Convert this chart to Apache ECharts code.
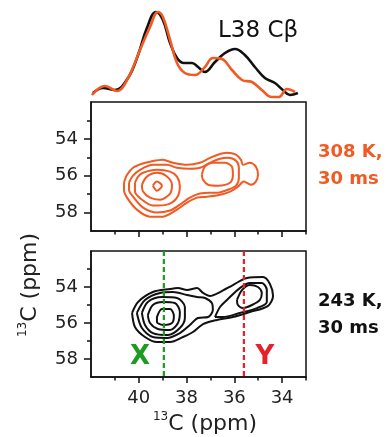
<!DOCTYPE html>
<html><head><meta charset="utf-8">
<script src="https://cdn.jsdelivr.net/npm/echarts@6/dist/echarts.min.js"></script>
<style>html,body{margin:0;padding:0;background:#fff}#c{width:388px;height:437px}</style>
</head><body><div id="c"></div>
<script>
// ---- axis ticks (ppm) ----
const xMajorTicks = [34, 36, 38, 40];
const xMinorTicks = [33, 35, 37, 39, 41];
const yMajorTicks = [54, 56, 58];
const yMinorTicks = [53, 55, 57];

// ---- 1D projections (ppm, relative intensity) ----
const spec243Ppm = [41.92,41.50,41.00,40.45,40.03,39.66,39.28,38.99,38.69,38.40,38.11,37.77,37.52,37.23,36.81,36.39,35.97,35.56,35.14,34.72,34.30,33.97,33.67,33.34];
const spec243Int = [2,7,5,17,40,67,83,75,52,37,32,32,28,23,33,42,46,40,28,17,12,5,0,2];
const spec308Ppm = [41.96,41.41,40.91,40.45,39.95,39.53,39.20,38.99,38.69,38.40,38.07,37.65,37.23,36.90,36.52,36.10,35.68,35.26,34.85,34.43,34.13,33.80,33.46];
const spec308Int = [0,9,4,17,45,68,83,78,55,32,22,20,28,37,36,25,15,13,5,-2,-2,6,3];

// ---- 308 K contours [13C ppm (x), 13C ppm (y)] ----
const c308A = [[40.62,56.38],[40.49,55.95],[40.24,55.57],[39.87,55.35],[39.53,55.24],[38.99,55.14],[38.57,55.30],[37.98,55.41],[37.44,55.30],[37.02,55.03],[36.69,54.86],[36.31,54.76],[35.93,54.86],[35.72,55.14],[35.64,55.41],[35.35,55.30],[35.10,55.51],[35.01,55.95],[35.10,56.32],[35.31,56.49],[35.60,56.32],[35.85,56.59],[36.18,56.86],[36.60,57.03],[37.15,57.14],[37.56,57.19],[37.98,57.46],[38.40,57.84],[38.99,58.22],[39.53,58.22],[40.08,57.84],[40.49,57.19],[40.62,56.76]];
const c308B = [[40.41,56.38],[40.24,56.00],[39.95,55.68],[39.41,55.41],[38.82,55.41],[38.40,55.57],[37.86,55.62],[37.44,55.57],[37.02,55.30],[36.60,55.08],[36.27,55.03],[35.93,55.19],[35.81,55.57],[35.81,56.11],[35.93,56.54],[36.27,56.76],[36.69,56.92],[37.02,56.92],[37.44,56.97],[37.86,57.19],[38.28,57.57],[38.69,57.89],[39.24,58.00],[39.82,57.73],[40.24,57.14],[40.41,56.76]];
const c308C = [[40.16,56.38],[40.03,56.05],[39.82,55.84],[39.24,55.68],[38.69,55.78],[38.40,56.05],[38.28,56.59],[38.40,57.19],[38.82,57.57],[39.41,57.62],[39.87,57.30],[40.16,56.86]];
const c308D = [[39.87,56.49],[39.66,56.05],[39.24,55.84],[38.86,56.00],[38.61,56.49],[38.69,56.97],[39.11,57.30],[39.53,57.19],[39.82,56.86]];
const c308E = [[39.41,56.54],[39.24,56.32],[39.03,56.54],[39.24,56.81]];
const c308R = [[37.36,55.95],[37.23,55.51],[36.90,55.30],[36.39,55.30],[36.10,55.51],[36.06,55.95],[36.18,56.38],[36.69,56.54],[37.10,56.49],[37.31,56.22]];

// ---- 243 K contours ----
const c243A = [[40.28,55.44],[40.03,54.83],[39.41,54.28],[38.69,54.11],[38.36,54.06],[37.98,54.17],[37.56,54.06],[37.31,54.33],[37.02,54.50],[36.60,54.28],[36.06,53.89],[35.47,53.50],[34.80,53.45],[34.51,53.83],[34.38,54.50],[34.60,55.06],[35.35,55.39],[36.06,55.67],[36.73,55.83],[37.31,56.06],[37.73,56.50],[38.15,56.78],[38.69,57.06],[39.24,57.06],[39.74,56.78],[40.16,56.22]];
const c243B = [[40.08,55.44],[39.74,54.72],[39.11,54.33],[38.57,54.28],[37.98,54.44],[37.56,54.56],[37.23,54.61],[36.94,54.89],[36.90,55.28],[37.10,55.67],[37.52,55.72],[37.86,56.11],[38.28,56.56],[38.82,56.83],[39.41,56.78],[39.87,56.28]];
const c243C = [[39.87,55.44],[39.62,54.83],[39.03,54.56],[38.40,54.61],[38.07,55.11],[38.07,55.72],[38.28,56.28],[38.78,56.67],[39.41,56.56],[39.74,56.11]];
const c243D = [[39.62,55.56],[39.41,55.00],[38.99,54.83],[38.49,54.89],[38.28,55.39],[38.36,56.00],[38.69,56.39],[39.20,56.33],[39.53,56.00]];
const c243E = [[39.24,55.67],[39.03,55.22],[38.69,55.22],[38.53,55.61],[38.61,56.00],[38.99,56.11],[39.24,55.94]];
const c243R1 = [[36.81,55.67],[36.60,55.11],[36.31,54.72],[35.77,54.06],[35.35,53.78],[34.85,53.78],[34.64,54.17],[34.64,54.83],[35.05,55.17],[35.77,55.44],[36.48,55.67]];
const c243R2 = [[35.89,54.72],[35.68,54.17],[35.35,53.89],[35.01,54.00],[34.85,54.33],[34.93,54.72],[35.26,55.00],[35.64,55.17],[35.85,55.00]];

// ---- marker positions (ppm) ----
const markerXppm = 38.95;
const markerYppm = 35.6;

const ORANGE = '#F15A22';
const BLACK = '#111111';
const GREEN = '#1E9B22';
const RED = '#E8202A';
const FONT = 'DejaVu Sans';

const chart = echarts.init(document.getElementById('c'), null, {renderer: 'canvas'});

function zip(a, b) { return a.map((v, i) => [v, b[i]]); }
function contour(pts, xi, yi, color) {
  return {
    type: 'line', xAxisIndex: xi, yAxisIndex: yi,
    data: pts.concat([pts[0]]), symbol: 'none', smooth: 0.3, clip: false, silent: true,
    lineStyle: {color: color, width: 2, join: 'round'}
  };
}
function vline(x, color) {
  return {
    type: 'line', xAxisIndex: 3, yAxisIndex: 3, data: [[x, 52], [x, 59]],
    symbol: 'none', silent: true, lineStyle: {color: color, width: 2.2, type: [5, 3]}
  };
}
const GL = 91, GR = 82;
const axisLineStyle = {color: BLACK, width: 1.5};
function xMajor(grid, labels) {
  return {
    gridIndex: grid, type: 'value', min: 33, max: 42, inverse: true, position: 'bottom',
    axisLine: {show: true, lineStyle: axisLineStyle},
    axisTick: {show: true, customValues: xMajorTicks, length: 6, lineStyle: axisLineStyle},
    axisLabel: {show: labels, customValues: xMajorTicks, margin: 12, fontSize: 18, fontFamily: FONT, color: '#222'},
    splitLine: {show: false}
  };
}
function xMinor(grid) {
  return {
    gridIndex: grid, type: 'value', min: 33, max: 42, inverse: true, position: 'bottom',
    axisLine: {show: false},
    axisTick: {show: true, customValues: xMinorTicks, length: 3.5, lineStyle: axisLineStyle},
    axisLabel: {show: false}, splitLine: {show: false}
  };
}
function yMajor(grid) {
  return {
    gridIndex: grid, type: 'value', min: 52, max: 59, inverse: true, position: 'left',
    axisLine: {show: true, lineStyle: axisLineStyle},
    axisTick: {show: true, customValues: yMajorTicks, length: 7, lineStyle: axisLineStyle},
    axisLabel: {show: true, customValues: yMajorTicks, margin: 13, fontSize: 18, fontFamily: FONT, color: '#222'},
    splitLine: {show: false}
  };
}
function yMinor(grid) {
  return {
    gridIndex: grid, type: 'value', min: 52, max: 59, inverse: true, position: 'left',
    axisLine: {show: false},
    axisTick: {show: true, customValues: yMinorTicks, length: 4, lineStyle: axisLineStyle},
    axisLabel: {show: false}, splitLine: {show: false}
  };
}

const series = [
  {type: 'line', xAxisIndex: 0, yAxisIndex: 0, data: zip(spec243Ppm, spec243Int), symbol: 'none', smooth: 0.4, clip: false, lineStyle: {color: BLACK, width: 2.6}},
  {type: 'line', xAxisIndex: 0, yAxisIndex: 0, data: zip(spec308Ppm, spec308Int), symbol: 'none', smooth: 0.4, clip: false, lineStyle: {color: ORANGE, width: 2.6}}
];
[c308A, c308B, c308C, c308D, c308E, c308R].forEach(c => series.push(contour(c, 1, 1, ORANGE)));
[c243A, c243B, c243C, c243D, c243E, c243R1, c243R2].forEach(c => series.push(contour(c, 3, 3, BLACK)));
series.push(vline(markerXppm, GREEN));
series.push(vline(markerYppm, RED));

chart.setOption({
  animation: false,
  backgroundColor: '#fff',
  grid: [
    {left: GL, right: GR, top: 0, height: 95, show: false},
    {left: GL, right: GR, top: 102, height: 129, show: true, borderColor: BLACK, borderWidth: 1.5, backgroundColor: 'transparent'},
    {left: GL, right: GR, top: 251, height: 126, show: true, borderColor: BLACK, borderWidth: 1.5, backgroundColor: 'transparent'}
  ],
  xAxis: [
    {gridIndex: 0, type: 'value', min: 33, max: 42, inverse: true, show: false},
    xMajor(1, false), xMinor(1),
    xMajor(2, true), xMinor(2)
  ],
  yAxis: [
    {gridIndex: 0, type: 'value', min: 0, max: 95, show: false},
    yMajor(1), yMinor(1),
    yMajor(2), yMinor(2)
  ],
  series: series,
  graphic: [
    {type: 'text', left: 218, top: 20, style: {text: 'L38 Cβ', font: '23px "DejaVu Sans"', fill: BLACK}},
    {type: 'text', left: 318, top: 139, style: {text: '308 K,\n30 ms', font: 'bold 18px "DejaVu Sans"', fill: ORANGE, lineHeight: 27}},
    {type: 'text', left: 318, top: 288, style: {text: '243 K,\n30 ms', font: 'bold 18px "DejaVu Sans"', fill: BLACK, lineHeight: 27}},
    {type: 'text', x: 140, y: 357, style: {text: 'X', font: 'bold 26px "DejaVu Sans"', fill: GREEN, align: 'center', verticalAlign: 'middle'}},
    {type: 'text', x: 265, y: 357, style: {text: 'Y', font: 'bold 26px "DejaVu Sans"', fill: RED, align: 'center', verticalAlign: 'middle'}},
    {type: 'text', x: 205, y: 424, style: {
      text: '{s|13}{n|C (ppm)}', align: 'center', verticalAlign: 'middle',
      rich: {s: {fontSize: 12, fontFamily: FONT, fill: '#222', verticalAlign: 'top'}, n: {fontSize: 22, fontFamily: FONT, fill: '#222', lineHeight: 26}}
    }},
    {type: 'text', x: 30, y: 285, rotation: Math.PI / 2, style: {
      text: '{s|13}{n|C (ppm)}', align: 'center', verticalAlign: 'middle',
      rich: {s: {fontSize: 12, fontFamily: FONT, fill: '#222', verticalAlign: 'top'}, n: {fontSize: 22, fontFamily: FONT, fill: '#222', lineHeight: 26}}
    }}
  ]
});
</script>
</body></html>
